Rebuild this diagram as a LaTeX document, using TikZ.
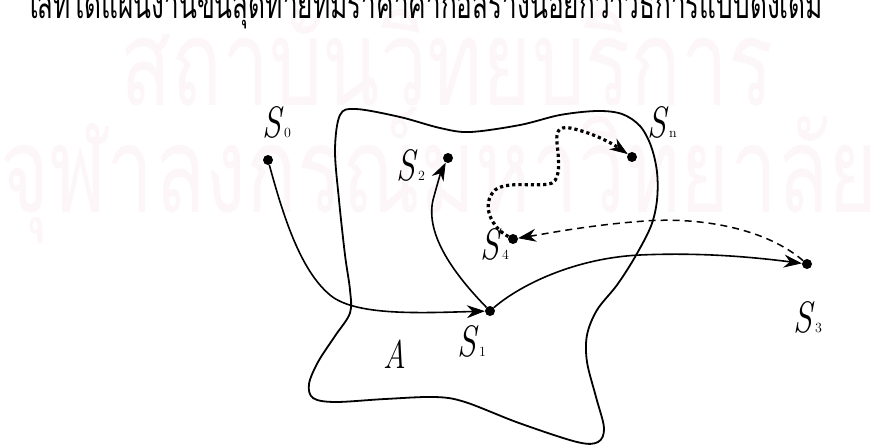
\documentclass[tikz,border=0pt]{standalone}
\usepackage{fontspec}
\newfontfamily\thaifont[Script=Thai]{Loma}
\usetikzlibrary{arrows.meta}
\definecolor{wm}{RGB}{253,246,249}
\newcommand\slab[1]{\scalebox{0.78}[1]{\fontsize{44}{44}\selectfont\itshape S}\kern3pt{\fontsize{14}{14}\selectfont #1}}
\tikzset{
  dot/.style={circle, fill=black, inner sep=0pt, minimum size=10pt},
  lab/.style={anchor=base west, inner sep=0pt},
  curve/.style={line width=1.6pt},
  blob/.style={line width=1.8pt},
  arr/.style={-{Stealth[length=18pt,width=13pt,inset=6pt,line width=0.8pt]}},
  dashline/.style={line width=1.5pt, dash pattern=on 7pt off 5pt},
  dotline/.style={line width=3.2pt, dash pattern=on 3.2pt off 3pt},
  wmtext/.style={anchor=base west, inner sep=0pt, text=wm}
}
\begin{document}
\begin{tikzpicture}[x=1pt,y=-1pt]
\useasboundingbox (0,0) rectangle (896,444);
% watermark
\node[wmtext] (wm1) at (120,105) {\scalebox{0.7}[1]{\thaifont\fontsize{120}{120}\selectfont สถาบันวิทยบริการ}};
\node[wmtext] (wm2) at (0,212) {\scalebox{0.7}[1]{\thaifont\fontsize{120}{120}\selectfont จุฬาลงกรณ์มหาวิทยาลัย}};
% cut-off title line
\node[anchor=base west, inner sep=0pt] (title) at (25,19) {\scalebox{0.655}[1]{\thaifont\fontsize{40}{40}\selectfont ใส่ที่ได้แผนงานขั้นสุดท้ายที่มีราคาค่าก่อสร้างน้อยกว่าวิธีการแบบดั้งเดิม}};
% region A
\draw[blob] plot[smooth cycle, tension=0.55] coordinates {
 (340,115) (356,109) (400,117) (440,128) (470,132) (520,125) (560,115)
 (597,111) (622,114) (640,126) (651,146) (657,172) (657,200) (651,226)
 (635,257) (617,285) (597,310) (587,335) (587,362) (596,397) (604,428)
 (598,442) (577,442) (519,423) (465,402) (435,397) (385,399) (335,402)
 (313,398) (309,384) (318,362) (335,336) (350,313) (350,290) (345,255)
 (339,200) (335,150)};
% points
\node[dot] (s0) at (268,160) {};
\node[dot] (s2) at (448,158) {};
\node[dot] (sn) at (632,157) {};
\node[dot] (s4) at (513,239) {};
\node[dot] (s1) at (490,311) {};
\node[dot] (s3) at (807,264) {};
% labels
\node[lab] (l0) at (262,137) {\slab{0}};
\node[lab] (l2) at (396,180) {\slab{2}};
\node[lab] (ln) at (647,137) {\slab{n}};
\node[lab] (l4) at (480,259) {\slab{4}};
\node[lab] (l1) at (457,356) {\slab{1}};
\node[lab] (l3) at (793,332) {\slab{3}};
\node[lab] (la) at (383,368) {\scalebox{0.78}[1]{\fontsize{40}{40}\selectfont\itshape A}};
% connectors
\draw[curve, arr] (s0) .. controls (283,215) and (300,270) .. (330,295) .. controls (355,316) and (420,313) .. (s1);
\draw[curve, arr] (s1) .. controls (455,275) and (425,235) .. (433,200) .. controls (437,185) and (441,172) .. (s2);
\draw[curve, arr] (s1) .. controls (520,285) and (575,258) .. (640,255) .. controls (705,252) and (760,258) .. (s3);
\draw[dashline, arr] (s3) .. controls (765,228) and (700,217) .. (645,221) .. controls (590,225) and (550,233) .. (s4);
\draw[dotline, arr] (s4) .. controls (492,228) and (480,205) .. (495,190) .. controls (508,180) and (540,188) .. (552,183) .. controls (562,178) and (558,155) .. (557,143) .. controls (556,132) and (558,126) .. (570,128) .. controls (590,132) and (610,142) .. (sn);
\end{tikzpicture}
\end{document}
